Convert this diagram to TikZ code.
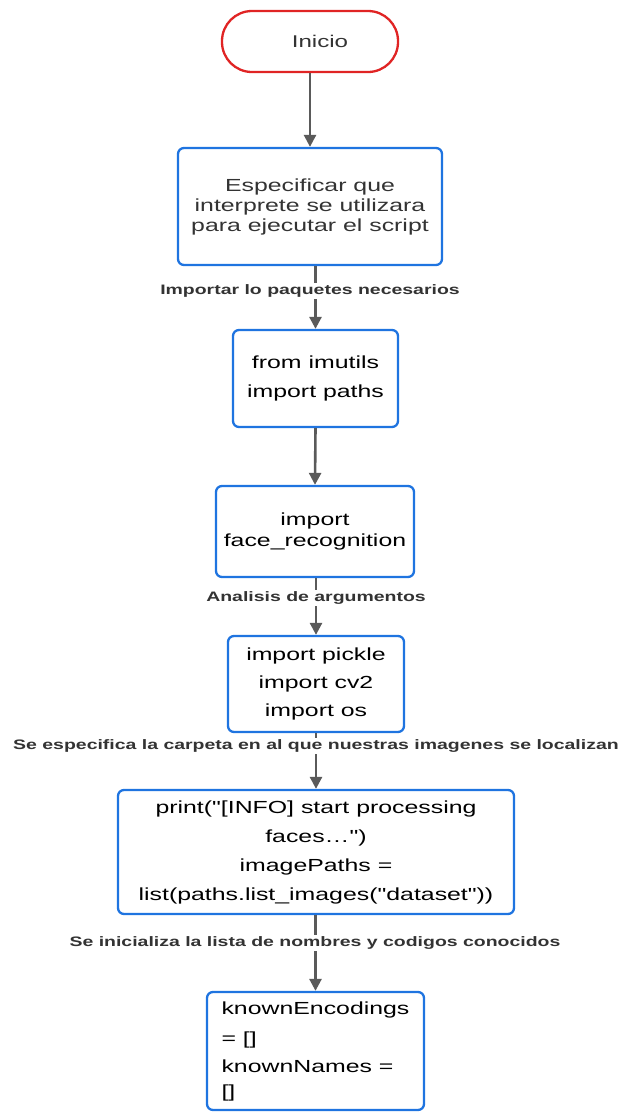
\documentclass[tikz,border=0pt]{standalone}
\usepackage{fontspec}
\usetikzlibrary{arrows.meta}
\newfontfamily\bodyfont[FakeStretch=1.42]{Liberation Sans}
\definecolor{flowblue}{HTML}{1F74E0}
\definecolor{flowred}{HTML}{E02424}
\definecolor{linkgrey}{HTML}{5A5A5A}
\definecolor{textgrey}{HTML}{333333}
\tikzset{
  stepbox/.style={draw=flowblue, line width=2.3pt, rounded corners=6pt, fill=white,
    inner sep=0pt, align=center, text=black},
  startbox/.style={draw=flowred, line width=2.3pt, rounded corners=30pt, fill=white,
    inner sep=0pt, text=textgrey, font={\bodyfont\fontsize{17}{20}\selectfont}},
  link/.style={draw=linkgrey, line width=2.6pt, -{Triangle[width=12pt,length=12pt]}},
  edgelabel/.style={fill=white, inner sep=1.5pt, text=textgrey,
    font={\bodyfont\bfseries\fontsize{13.7}{16}\selectfont}}
}
\begin{document}
\begin{tikzpicture}[x=1pt, y=-1pt]
\useasboundingbox (0,0) rectangle (624,1112);

% process steps
\node[startbox, minimum width=176pt, minimum height=61pt] (start) at (310,41.5)
  {\hspace*{20pt}Inicio};
\node[stepbox, minimum width=264pt, minimum height=117pt, text=textgrey,
      font={\bodyfont\fontsize{17.5}{20}\selectfont}] (interp) at (310,206.5)
  {Especificar que\\interprete se utilizara\\para ejecutar el script};
\node[stepbox, minimum width=165pt, minimum height=97pt,
      font={\bodyfont\fontsize{17.5}{29}\selectfont}] (imutils) at (315.5,378.5)
  {from imutils\\import paths};
\node[stepbox, minimum width=198pt, minimum height=91pt,
      font={\bodyfont\fontsize{17.5}{21}\selectfont}] (facerec) at (315,531.5)
  {import\\face\_recognition};
\node[stepbox, minimum width=176pt, minimum height=96pt,
      font={\bodyfont\fontsize{17.5}{28}\selectfont}] (imports) at (316,684)
  {import pickle\\import cv2\\import os};
\node[stepbox, minimum width=396pt, minimum height=124pt,
      font={\bodyfont\fontsize{17.5}{29}\selectfont}] (paths) at (316,852)
  {print("[INFO] start processing\\faces…")\\imagePaths =\\list(paths.list\_images("dataset"))};
\node[stepbox, minimum width=217pt, minimum height=118pt, align=left,
      font={\bodyfont\fontsize{17.5}{28}\selectfont}] (known) at (315.5,1051)
  {knownEncodings\\[2pt]= []\\knownNames =\\[-3pt][]};

% connectors
\draw[link] (start.south) -- (interp.north);
\draw[link] (interp.south -| imutils.north) -- (imutils.north);
\draw[link] (imutils.south) -- (facerec.north);
\draw[link] (facerec.south -| imports.north) -- (imports.north);
\draw[link] (imports.south) -- (paths.north);
\draw[link] (paths.south -| known.north) -- (known.north);

% connector labels
\node[edgelabel] (lblimport) at (310,291) {Importar lo paquetes necesarios};
\node[edgelabel] (lblargs) at (316,598) {Analisis de argumentos};
\node[edgelabel] (lbldir) at (316,746) {Se especifica la carpeta en al que nuestras imagenes se localizan};
\node[edgelabel] (lblinit) at (315,943) {Se inicializa la lista de nombres y codigos conocidos};
\end{tikzpicture}
\end{document}
